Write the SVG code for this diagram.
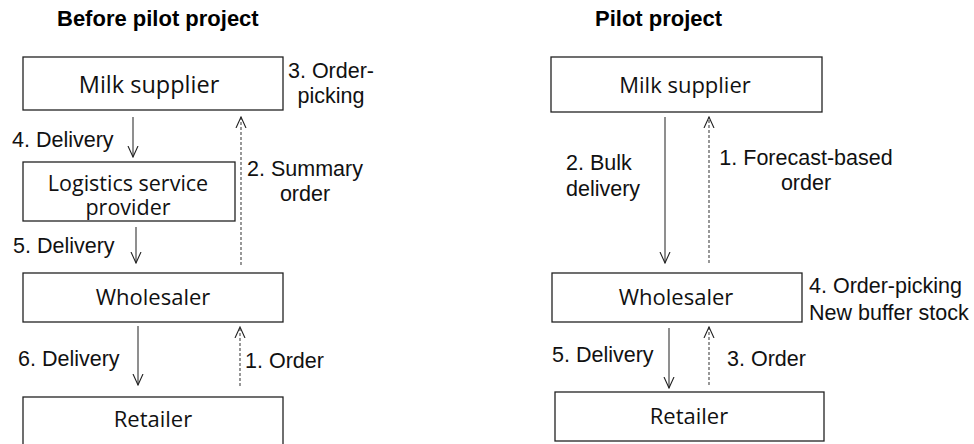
<svg xmlns="http://www.w3.org/2000/svg" width="974" height="444" viewBox="0 0 974 444">
  <defs>
    <marker id="head" viewBox="0 0 12 12" refX="11" refY="6" markerWidth="12" markerHeight="12" markerUnits="userSpaceOnUse" orient="auto">
      <path d="M0,1 L11,6 L0,11" fill="none" stroke="#222" stroke-width="1.1"/>
    </marker>
  </defs>
  <style>
    .box { fill: #fff; stroke: #222; stroke-width: 1.3; }
    .node { font-family: "Open Sans", "Noto Sans", sans-serif; font-size: 22px; fill: #111; text-anchor: middle; }
    .lbl { font-family: "Liberation Sans", Arial, sans-serif; font-size: 21.5px; fill: #111; }
    .title { font-family: "Liberation Sans", Arial, sans-serif; font-size: 22px; font-weight: bold; fill: #000; }
    .flow { stroke: #333; stroke-width: 1.1; fill: none; marker-end: url(#head); }
    .info { stroke: #444; stroke-width: 1.1; fill: none; stroke-dasharray: 3 2; marker-end: url(#head); }
  </style>
  <rect width="974" height="444" fill="#fff"/>

  <!-- Section titles -->
  <text class="title" x="57" y="26">Before pilot project</text>
  <text class="title" x="595" y="26">Pilot project</text>

  <!-- Left chain: before the pilot -->
  <g id="before-milk-supplier">
    <rect class="box" x="23" y="57" width="260" height="53"/>
    <text class="node" x="149" y="93" style="font-size:23.5px">Milk supplier</text>
  </g>
  <g id="before-logistics">
    <rect class="box" x="23" y="162" width="212" height="59"/>
    <text class="node" x="128" y="191" style="font-size:21.5px">Logistics service</text>
    <text class="node" x="128" y="215" style="font-size:21.5px">provider</text>
  </g>
  <g id="before-wholesaler">
    <rect class="box" x="23" y="273" width="260" height="49"/>
    <text class="node" x="153" y="305">Wholesaler</text>
  </g>
  <g id="before-retailer">
    <rect class="box" x="23" y="397" width="260" height="52"/>
    <text class="node" x="153" y="427">Retailer</text>
  </g>

  <!-- Right chain: pilot -->
  <g id="pilot-milk-supplier">
    <rect class="box" x="551" y="57" width="271" height="55"/>
    <text class="node" x="685" y="93">Milk supplier</text>
  </g>
  <g id="pilot-wholesaler">
    <rect class="box" x="552" y="273" width="250" height="49"/>
    <text class="node" x="676" y="305">Wholesaler</text>
  </g>
  <g id="pilot-retailer">
    <rect class="box" x="555" y="392" width="269" height="49"/>
    <text class="node" x="689" y="424">Retailer</text>
  </g>

  <!-- Flows of goods (solid) and orders (dashed) -->
  <g id="connectors">
    <line class="flow" x1="133" y1="117" x2="133" y2="157"/>
    <line class="flow" x1="136" y1="227" x2="136" y2="263"/>
    <line class="flow" x1="138" y1="326" x2="138" y2="385"/>
    <line class="info" x1="241" y1="265" x2="241" y2="117"/>
    <line class="info" x1="240" y1="386" x2="240" y2="327"/>

    <line class="flow" x1="665" y1="117" x2="665" y2="263"/>
    <line class="info" x1="709" y1="263" x2="709" y2="117"/>
    <line class="flow" x1="669" y1="328" x2="669" y2="388"/>
    <line class="info" x1="709" y1="385" x2="709" y2="327"/>
  </g>

  <!-- Step labels -->
  <g id="labels">
    <text class="lbl" x="12" y="147">4. Delivery</text>
    <text class="lbl" x="13" y="253">5. Delivery</text>
    <text class="lbl" x="18" y="366">6. Delivery</text>
    <text class="lbl" x="331" y="78" text-anchor="middle">3. Order-</text>
    <text class="lbl" x="331" y="103" text-anchor="middle">picking</text>
    <text class="lbl" x="305" y="176" text-anchor="middle">2. Summary</text>
    <text class="lbl" x="305" y="201" text-anchor="middle">order</text>
    <text class="lbl" x="245" y="368">1. Order</text>

    <text class="lbl" x="566" y="170">2. Bulk</text>
    <text class="lbl" x="566" y="196">delivery</text>
    <text class="lbl" x="806" y="165" text-anchor="middle">1. Forecast-based</text>
    <text class="lbl" x="806" y="190" text-anchor="middle">order</text>
    <text class="lbl" x="809" y="293">4. Order-picking</text>
    <text class="lbl" x="809" y="320">New buffer stock</text>
    <text class="lbl" x="552" y="362">5. Delivery</text>
    <text class="lbl" x="727" y="366">3. Order</text>
  </g>
</svg>
